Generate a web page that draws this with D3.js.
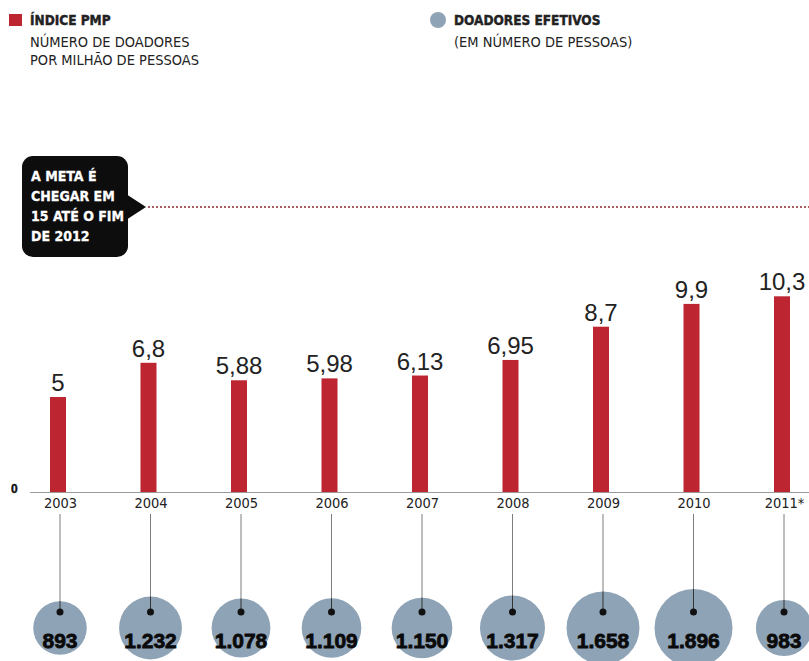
<!DOCTYPE html>
<html>
<head>
<meta charset="utf-8">
<script src="https://cdn.jsdelivr.net/npm/d3@7"></script>
<style>
  html, body { margin: 0; padding: 0; background: #fff; }
  svg { display: block; }
</style>
</head>
<body>
<svg id="chart" width="809" height="661"></svg>
<script>
// ---- data ----
const years = ["2003", "2004", "2005", "2006", "2007", "2008", "2009", "2010", "2011*"];
const pmpValues = [5, 6.8, 5.88, 5.98, 6.13, 6.95, 8.7, 9.9, 10.3];
const donorValues = [893, 1232, 1078, 1109, 1150, 1317, 1658, 1896, 983];
const goalValue = 15;
const calloutLines = ["A META É", "CHEGAR EM", "15 ATÉ O FIM", "DE 2012"];

// ---- styles ----
const red = "#bd2630";
const blueGray = "#8fa3b6";
const textDark = "#222";
const narrow = "'Liberation Sans Narrow', 'DejaVu Sans Condensed', 'Liberation Sans', sans-serif";
const sans = "'Liberation Sans', Arial, sans-serif";

const ptLocale = d3.formatLocale({decimal: ",", thousands: ".", grouping: [3], currency: ["R$", ""]});
const fmtPmp = v => ptLocale.format(",")(v);
const fmtDonors = ptLocale.format(",d");

const svg = d3.select("#chart");

const x = d3.scalePoint().domain(years).range([60, 784]);
const y = d3.scaleLinear().domain([0, goalValue]).range([492, 207]);
const r = d3.scaleSqrt().domain([0, d3.max(donorValues)]).range([0, 39]);

// ---- legend ----
const legend = svg.append("g");
legend.append("rect").attr("x", 9).attr("y", 14).attr("width", 13).attr("height", 12).attr("fill", red);
legend.append("text").attr("x", 30).attr("y", 25).text("ÍNDICE PMP")
  .attr("font-family", narrow).attr("font-weight", "bold").attr("font-size", 13.5)
  .attr("fill", textDark).attr("stroke", textDark).attr("stroke-width", 0.4);
legend.append("text").attr("x", 30).attr("y", 47).text("NÚMERO DE DOADORES")
  .attr("font-family", narrow).attr("font-size", 14.5).attr("fill", textDark);
legend.append("text").attr("x", 30).attr("y", 65).text("POR MILHÃO DE PESSOAS")
  .attr("font-family", narrow).attr("font-size", 14.5).attr("fill", textDark);

legend.append("circle").attr("cx", 438).attr("cy", 20).attr("r", 8).attr("fill", blueGray);
legend.append("text").attr("x", 454).attr("y", 25).text("DOADORES EFETIVOS")
  .attr("font-family", narrow).attr("font-weight", "bold").attr("font-size", 13.5)
  .attr("fill", textDark).attr("stroke", textDark).attr("stroke-width", 0.4);
legend.append("text").attr("x", 454).attr("y", 47).text("(EM NÚMERO DE PESSOAS)")
  .attr("font-family", narrow).attr("font-size", 14.5).attr("fill", textDark);

// ---- goal line + callout ----
svg.append("line")
  .attr("x1", 148).attr("x2", 809)
  .attr("y1", y(goalValue)).attr("y2", y(goalValue))
  .attr("stroke", "#8a2a30").attr("stroke-width", 1.5).attr("stroke-dasharray", "2,2");

const cy0 = y(goalValue);
const callout = svg.append("g");
callout.append("rect").attr("x", 22).attr("y", cy0 - 51).attr("width", 106).attr("height", 101)
  .attr("rx", 11).attr("fill", "#0d0d0d");
callout.append("path")
  .attr("d", `M126,${cy0 - 13} L146,${cy0} L126,${cy0 + 13} Z`).attr("fill", "#0d0d0d");
callout.selectAll("text").data(calloutLines).join("text")
  .attr("x", 31).attr("y", (d, i) => cy0 - 26 + i * 20)
  .text(d => d)
  .attr("font-family", narrow).attr("font-weight", "bold").attr("font-size", 14)
  .attr("fill", "#fff").attr("stroke", "#fff").attr("stroke-width", 0.3);

// ---- bars ----
const barW = 16;
svg.append("g").selectAll("rect").data(pmpValues).join("rect")
  .attr("x", (d, i) => x(years[i]) - 2 - barW / 2)
  .attr("y", d => y(d))
  .attr("width", barW)
  .attr("height", d => y(0) - y(d))
  .attr("fill", red);

svg.append("g").selectAll("text").data(pmpValues).join("text")
  .attr("x", (d, i) => x(years[i]) - 2)
  .attr("y", d => y(d) - 6)
  .attr("text-anchor", "middle")
  .attr("font-family", sans).attr("font-size", 24)
  .attr("fill", textDark)
  .text(d => fmtPmp(d));

// ---- axis ----
svg.append("line").attr("x1", 30).attr("x2", 809).attr("y1", y(0) + 0.5).attr("y2", y(0) + 0.5)
  .attr("stroke", "#9a9a9a").attr("stroke-width", 1);
svg.append("text").attr("x", 11).attr("y", y(0)).attr("dy", "0.1em")
  .text("0").attr("font-family", sans).attr("font-weight", "bold").attr("font-size", 12)
  .attr("fill", "#111").attr("stroke", "#111").attr("stroke-width", 0.4);

const axis = svg.append("g").attr("transform", `translate(0,${y(0)})`)
  .call(d3.axisBottom(x).tickSize(0).tickPadding(6));
axis.select(".domain").remove();
axis.selectAll("text")
  .attr("font-family", narrow).attr("font-size", 14.5).attr("fill", "#222");

// ---- connectors + donor bubbles ----
const bubbleY = 628;
const dotY = 612;
const bub = svg.append("g");
bub.selectAll("line").data(donorValues).join("line")
  .attr("x1", (d, i) => x(years[i])).attr("x2", (d, i) => x(years[i]))
  .attr("y1", 514).attr("y2", dotY)
  .attr("stroke", "#7d7d7d").attr("stroke-width", 1);
bub.selectAll("circle.b").data(donorValues).join("circle")
  .attr("class", "b")
  .attr("cx", (d, i) => x(years[i])).attr("cy", bubbleY)
  .attr("r", d => r(d)).attr("fill", blueGray);
bub.selectAll("line.c").data(donorValues).join("line")
  .attr("class", "c")
  .attr("x1", (d, i) => x(years[i])).attr("x2", (d, i) => x(years[i]))
  .attr("y1", d => bubbleY - r(d)).attr("y2", dotY)
  .attr("stroke", "#333").attr("stroke-width", 1);
bub.selectAll("circle.d").data(donorValues).join("circle")
  .attr("class", "d")
  .attr("cx", (d, i) => x(years[i])).attr("cy", dotY)
  .attr("r", 3.5).attr("fill", "#111");
bub.selectAll("text").data(donorValues).join("text")
  .attr("x", (d, i) => x(years[i])).attr("y", 648)
  .attr("text-anchor", "middle")
  .attr("font-family", sans).attr("font-weight", "bold").attr("font-size", 21)
  .attr("fill", "#0a0a0a").attr("stroke", "#0a0a0a").attr("stroke-width", 0.8)
  .text(d => fmtDonors(d));
</script>
</body>
</html>
